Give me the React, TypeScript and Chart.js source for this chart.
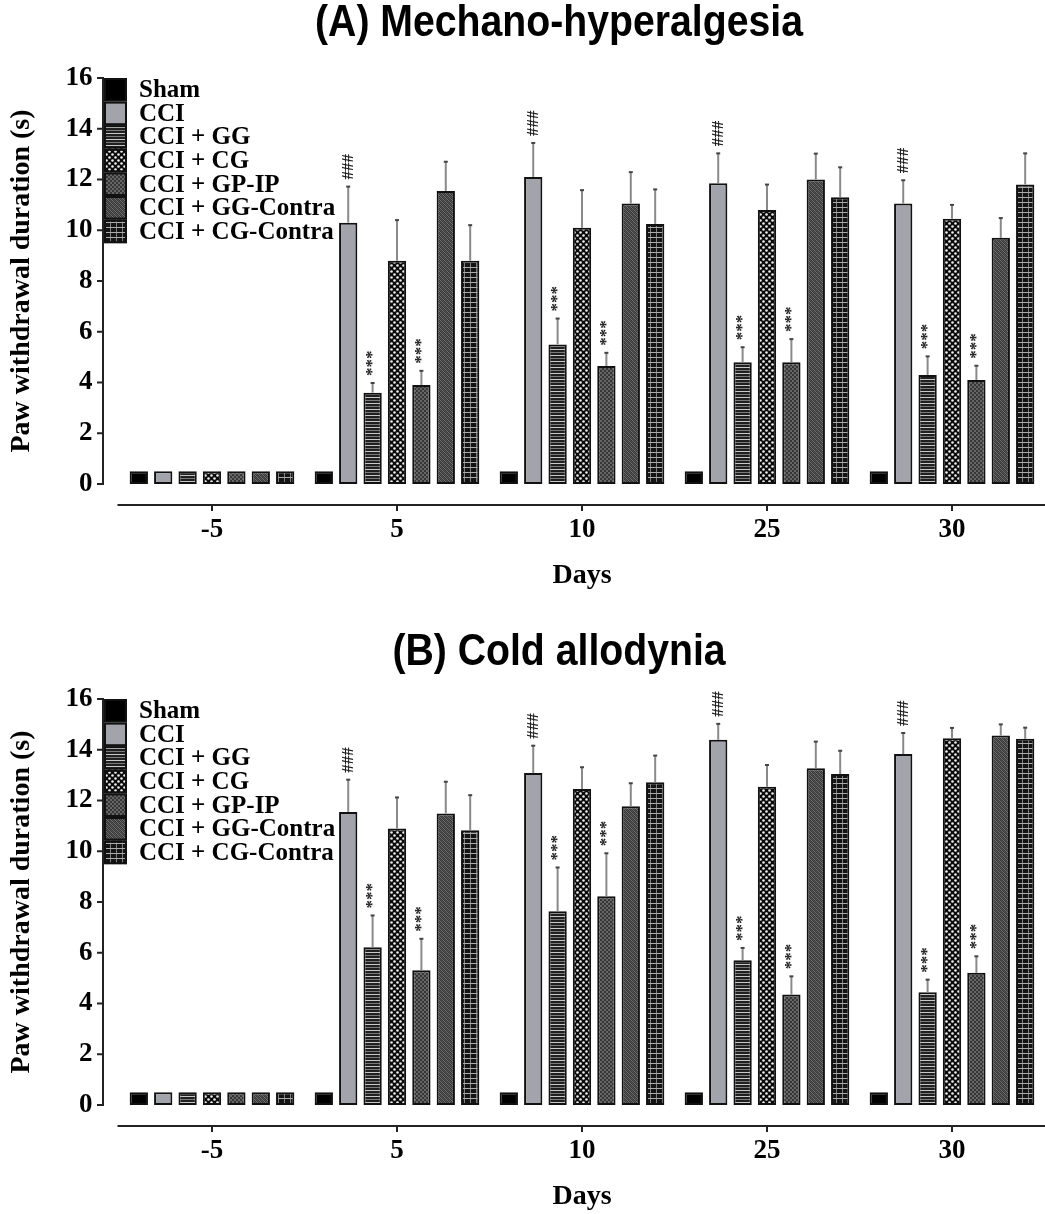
import React, { useEffect, useRef } from 'react';
import { Chart, registerables } from 'chart.js';

Chart.register(...registerables);

const SERIF = '"Liberation Serif", "Times New Roman", serif';
const SANS = '"Liberation Sans", Arial, sans-serif';

const DAYS = ['-5', '5', '10', '25', '30'];
const GROUPS = ['Sham', 'CCI', 'CCI + GG', 'CCI + CG', 'CCI + GP-IP', 'CCI + GG-Contra', 'CCI + CG-Contra'];
const Y_TICKS = [0, 2, 4, 6, 8, 10, 12, 14, 16];

// ---- Panel A: Mechano-hyperalgesia (means) ----
const A_SHAM = [0.5, 0.5, 0.5, 0.5, 0.5];
const A_CCI = [0.5, 10.3, 12.1, 11.85, 11.05];
const A_GG = [0.5, 3.6, 5.5, 4.8, 4.3];
const A_CG = [0.5, 8.8, 10.1, 10.8, 10.45];
const A_GPIP = [0.5, 3.9, 4.65, 4.8, 4.1];
const A_GGC = [0.5, 11.55, 11.05, 12.0, 9.7];
const A_CGC = [0.5, 8.8, 10.25, 11.3, 11.8];
// ---- Panel A: SEM ----
const A_SHAM_SEM = [0, 0, 0, 0, 0];
const A_CCI_SEM = [0, 1.42, 1.34, 1.18, 0.92];
const A_GG_SEM = [0, 0.38, 1.02, 0.59, 0.73];
const A_CG_SEM = [0, 1.6, 1.48, 1.0, 0.55];
const A_GPIP_SEM = [0, 0.56, 0.52, 0.91, 0.56];
const A_GGC_SEM = [0, 1.15, 1.24, 1.02, 0.78];
const A_CGC_SEM = [0, 1.4, 1.36, 1.18, 1.23];

// ---- Panel B: Cold allodynia (means) ----
const B_SHAM = [0.5, 0.5, 0.5, 0.5, 0.5];
const B_CCI = [0.5, 11.55, 13.08, 14.39, 13.83];
const B_GG = [0.5, 6.22, 7.64, 5.7, 4.44];
const B_CG = [0.5, 10.9, 12.45, 12.54, 14.45];
const B_GPIP = [0.5, 5.31, 8.23, 4.35, 5.21];
const B_GGC = [0.5, 11.49, 11.77, 13.27, 14.56];
const B_CGC = [0.5, 10.83, 12.72, 13.04, 14.43];
// ---- Panel B: SEM ----
const B_SHAM_SEM = [0, 0, 0, 0, 0];
const B_CCI_SEM = [0, 1.27, 1.08, 0.63, 0.83];
const B_GG_SEM = [0, 1.25, 1.72, 0.49, 0.5];
const B_CG_SEM = [0, 1.22, 0.86, 0.86, 0.41];
const B_GPIP_SEM = [0, 1.24, 1.69, 0.72, 0.65];
const B_GGC_SEM = [0, 1.25, 0.91, 1.05, 0.44];
const B_CGC_SEM = [0, 1.38, 1.05, 0.92, 0.44];

// ---- Significance marks ----
const NOTE_NONE = ['', '', '', '', ''];
const NOTE_CCI = ['', '###', '###', '###', '###'];
const NOTE_TREAT = ['', '***', '***', '***', '***'];

type Panel = {
  title: string;
  titleY: number;
  means: number[][];
  sems: number[][];
  notes: string[][];
};

const PANEL_A: Panel = {
  title: '(A) Mechano-hyperalgesia',
  titleY: 24,
  means: [A_SHAM, A_CCI, A_GG, A_CG, A_GPIP, A_GGC, A_CGC],
  sems: [A_SHAM_SEM, A_CCI_SEM, A_GG_SEM, A_CG_SEM, A_GPIP_SEM, A_GGC_SEM, A_CGC_SEM],
  notes: [NOTE_NONE, NOTE_CCI, NOTE_TREAT, NOTE_NONE, NOTE_TREAT, NOTE_NONE, NOTE_NONE],
};

const PANEL_B: Panel = {
  title: '(B) Cold allodynia',
  titleY: 32,
  means: [B_SHAM, B_CCI, B_GG, B_CG, B_GPIP, B_GGC, B_CGC],
  sems: [B_SHAM_SEM, B_CCI_SEM, B_GG_SEM, B_CG_SEM, B_GPIP_SEM, B_GGC_SEM, B_CGC_SEM],
  notes: [NOTE_NONE, NOTE_CCI, NOTE_TREAT, NOTE_NONE, NOTE_TREAT, NOTE_NONE, NOTE_NONE],
};

function tile(w: number, h: number, draw: (g: CanvasRenderingContext2D) => void) {
  const c = document.createElement('canvas');
  c.width = w;
  c.height = h;
  draw(c.getContext('2d')!);
  return c;
}

function makeFills(ctx: CanvasRenderingContext2D): (string | CanvasPattern)[] {
  const gg = tile(6, 6, (g) => {
    g.fillStyle = '#202020'; g.fillRect(0, 0, 6, 6);
    g.fillStyle = '#c8c8c8'; g.fillRect(0, 1, 6, 1);
    g.fillStyle = '#7a7a7a'; g.fillRect(0, 4, 6, 1);
  });
  const cg = tile(6, 6, (g) => {
    g.fillStyle = '#0a0a0a'; g.fillRect(0, 0, 6, 6);
    g.fillStyle = '#eeeeee';
    g.beginPath(); g.arc(1.5, 1.5, 1.3, 0, Math.PI * 2); g.fill();
    g.beginPath(); g.arc(4.5, 4.5, 1.3, 0, Math.PI * 2); g.fill();
  });
  const gpip = tile(4, 4, (g) => {
    g.fillStyle = '#363636'; g.fillRect(0, 0, 4, 4);
    g.fillStyle = '#666666'; g.fillRect(0, 0, 2, 2); g.fillRect(2, 2, 2, 2);
  });
  const ggc = tile(4, 4, (g) => {
    g.fillStyle = '#383838'; g.fillRect(0, 0, 4, 4);
    for (let i = 0; i < 4; i++) {
      g.fillStyle = '#727272'; g.fillRect(i, i, 1, 1);
      g.fillStyle = '#525252'; g.fillRect(i, (i + 2) % 4, 1, 1);
    }
  });
  const cgc = tile(6, 5, (g) => {
    g.fillStyle = '#141414'; g.fillRect(0, 0, 6, 5);
    g.fillStyle = '#808080'; g.fillRect(2, 0, 1, 5);
    g.fillStyle = '#acacac'; g.fillRect(0, 2, 6, 1);
  });
  const pat = (c: HTMLCanvasElement) => ctx.createPattern(c, 'repeat') as CanvasPattern;
  return ['#000000', '#a3a3ab', pat(gg), pat(cg), pat(gpip), pat(ggc), pat(cgc)];
}

function decor(panel: Panel, fills: (string | CanvasPattern)[]) {
  return {
    id: 'panelDecor',
    afterDatasetsDraw(chart: any) {
      const ctx: CanvasRenderingContext2D = chart.ctx;
      const y = chart.scales.y;
      chart.data.datasets.forEach((ds: any, di: number) => {
        const meta = chart.getDatasetMeta(di);
        meta.data.forEach((bar: any, i: number) => {
          const v = ds.data[i] as number;
          const e = panel.sems[di][i];
          const x = bar.x;
          const top = y.getPixelForValue(v);
          let tip = top;
          if (e > 0) {
            tip = y.getPixelForValue(v + e);
            ctx.save();
            ctx.strokeStyle = '#8a8a8a';
            ctx.lineWidth = 2;
            ctx.beginPath();
            ctx.moveTo(x, top);
            ctx.lineTo(x, tip);
            ctx.stroke();
            ctx.strokeStyle = '#444';
            ctx.lineWidth = 2;
            ctx.beginPath();
            ctx.moveTo(x - 2, tip);
            ctx.lineTo(x + 2, tip);
            ctx.stroke();
            ctx.restore();
          }
          const note = panel.notes[di][i];
          if (note) {
            ctx.save();
            ctx.translate(x, tip - 7);
            ctx.rotate(-Math.PI / 2);
            ctx.font = `bold 17px ${SERIF}`;
            ctx.fillStyle = '#222';
            ctx.textAlign = 'left';
            ctx.textBaseline = 'middle';
            ctx.fillText(note, 0, 0);
            ctx.restore();
          }
        });
      });
    },
    afterDraw(chart: any) {
      const ctx: CanvasRenderingContext2D = chart.ctx;
      const area = chart.chartArea;
      const y = chart.scales.y;
      const x = chart.scales.x;
      ctx.save();
      // title (slightly taller, like the reference)
      ctx.save();
      ctx.translate(559, panel.titleY);
      ctx.scale(0.98, 1.1);
      ctx.fillStyle = '#000';
      ctx.font = `bold 40px ${SANS}`;
      ctx.textAlign = 'center';
      ctx.textBaseline = 'middle';
      ctx.fillText(panel.title, 0, 0);
      ctx.restore();
      // y axis (offset from plot)
      ctx.strokeStyle = '#222';
      ctx.lineWidth = 2;
      const ax = area.left - 16.5;
      ctx.beginPath();
      ctx.moveTo(ax, y.getPixelForValue(0) + 1);
      ctx.lineTo(ax, y.getPixelForValue(16) - 1);
      ctx.stroke();
      y.ticks.forEach((t: any) => {
        const py = y.getPixelForValue(t.value);
        ctx.beginPath();
        ctx.moveTo(ax - 6, py);
        ctx.lineTo(ax, py);
        ctx.stroke();
      });
      // x axis (offset below plot)
      const ay = area.bottom + 21;
      ctx.beginPath();
      ctx.moveTo(area.left - 2, ay);
      ctx.lineTo(area.right + 1, ay);
      ctx.stroke();
      DAYS.forEach((_, i) => {
        const px = x.getPixelForValue(i);
        ctx.beginPath();
        ctx.moveTo(px, ay);
        ctx.lineTo(px, ay + 6);
        ctx.stroke();
      });
      // legend
      const lx = 104;
      const lw = 23;
      const rh = 23.6;
      GROUPS.forEach((g, i) => {
        const yy = area.top + i * rh;
        ctx.fillStyle = fills[i] as any;
        ctx.fillRect(lx, yy, lw, rh);
        ctx.strokeStyle = '#111';
        ctx.lineWidth = 2;
        ctx.strokeRect(lx + 1, yy + 1, lw - 2, rh - 2);
        ctx.fillStyle = '#000';
        ctx.font = `bold 25px ${SERIF}`;
        ctx.textAlign = 'left';
        ctx.textBaseline = 'middle';
        ctx.fillText(g, 139, yy + rh / 2 + 1);
      });
      ctx.restore();
    },
  };
}

function PanelChart({ panel, top }: { panel: Panel; top: number }) {
  const ref = useRef<HTMLCanvasElement>(null);
  useEffect(() => {
    const canvas = ref.current!;
    const ctx = canvas.getContext('2d')!;
    const fills = makeFills(ctx);
    const tickFont = { family: SERIF, size: 27, weight: 'bold' as const };
    const titleFont = { family: SERIF, size: 28, weight: 'bold' as const };
    const chart = new Chart(canvas, {
      type: 'bar',
      data: {
        labels: DAYS,
        datasets: GROUPS.map((g, i) => ({
          label: g,
          data: panel.means[i],
          backgroundColor: fills[i] as any,
          borderColor: '#111',
          borderWidth: 2,
          borderSkipped: false,
          categoryPercentage: 0.923,
          barPercentage: 0.75,
        })),
      },
      options: {
        animation: false,
        responsive: false,
        maintainAspectRatio: false,
        layout: { padding: { top: 78, left: 0, right: 0.5, bottom: 0 } },
        plugins: {
          legend: { display: false },
          tooltip: { enabled: false },
          title: { display: false },
        },
        scales: {
          x: {
            grid: { display: false, drawTicks: false },
            border: { display: false },
            ticks: { font: tickFont, color: '#000', padding: 30 },
            title: { display: true, text: 'Days', font: titleFont, color: '#000', padding: { top: 0, bottom: 0 } },
            afterFit: (s: any) => { s.height = 109; },
          },
          y: {
            min: 0,
            max: 16,
            afterBuildTicks: (s: any) => { s.ticks = Y_TICKS.map((v) => ({ value: v })); },
            grid: { display: false, drawTicks: false },
            border: { display: false },
            ticks: { font: tickFont, color: '#000', padding: 27 },
            title: {
              display: true,
              text: 'Paw withdrawal duration (s)',
              font: titleFont,
              color: '#000',
              padding: { top: 5, bottom: 0 },
            },
            afterFit: (s: any) => { s.width = 119.5; },
          },
        },
      },
      plugins: [decor(panel, fills)],
    });
    return () => chart.destroy();
  }, [panel]);
  return (
    <canvas
      ref={ref}
      width={1045}
      height={593}
      style={{ position: 'absolute', left: 0, top, width: 1045, height: 593 }}
    />
  );
}

export default function App() {
  return (
    <div style={{ position: 'absolute', left: 0, top: 0, width: 1045, height: 1214, background: '#fff', overflow: 'hidden' }}>
      <PanelChart panel={PANEL_A} top={0} />
      <PanelChart panel={PANEL_B} top={621} />
    </div>
  );
}
